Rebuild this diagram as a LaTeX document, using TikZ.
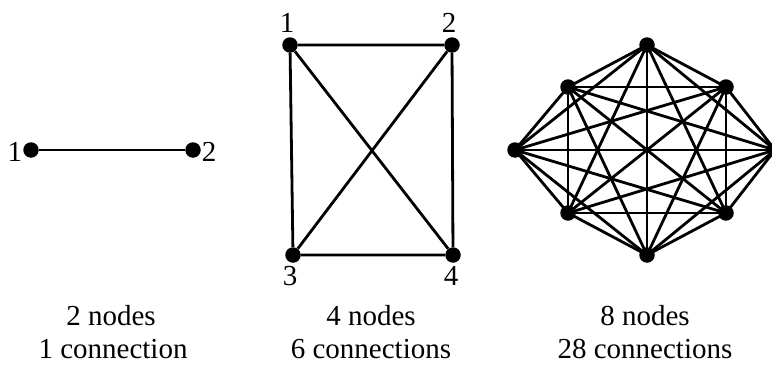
\documentclass[tikz,border=0pt]{standalone}
\usepackage{fontspec}
\setmainfont{Liberation Serif}
\begin{document}
\begin{tikzpicture}[x=1pt,y=-1pt,
  dot/.style={circle,fill=black,inner sep=0pt,minimum size=15.5pt},
  edge/.style={line width=2.8pt},
  lbl/.style={anchor=base,inner sep=0pt,font=\fontsize{29}{34}\selectfont}]
\useasboundingbox (0,0) rectangle (772,367);
% graph 1
\node[dot] (a1) at (31,150) {};
\node[dot] (a2) at (193,150) {};
\draw[edge] (a1) -- (a2);
\node[lbl] (la1) at (15,161) {1};
\node[lbl] (la2) at (209,161) {2};
% graph 2
\node[dot] (b1) at (290,45) {};
\node[dot] (b2) at (452,45) {};
\node[dot] (b3) at (293,255) {};
\node[dot] (b4) at (453,255) {};
\draw[edge] (b1) -- (b2) -- (b4) -- (b3) -- (b1) -- (b4);
\draw[edge] (b2) -- (b3);
\node[lbl] (lb1) at (287,32) {1};
\node[lbl] (lb2) at (449,32) {2};
\node[lbl] (lb3) at (290,285) {3};
\node[lbl] (lb4) at (451,285) {4};
% graph 3
\node[dot] (c1) at (647,45) {};
\node[dot] (c2) at (726,87) {};
\node[dot] (c3) at (775,150) {};
\node[dot] (c4) at (726,213) {};
\node[dot] (c5) at (647,255) {};
\node[dot] (c6) at (568,213) {};
\node[dot] (c7) at (515,150) {};
\node[dot] (c8) at (568,87) {};
\foreach \i in {1,...,7}{
  \pgfmathtruncatemacro{\s}{\i+1}
  \foreach \j in {\s,...,8}{
    \draw[edge] (c\i.center) -- (c\j.center);
  }
}
% captions
\node[lbl] (t1) at (111,325) {2 nodes};
\node[lbl] (t2) at (113,358) {1 connection};
\node[lbl] (t3) at (371,325) {4 nodes};
\node[lbl] (t4) at (371,358) {6 connections};
\node[lbl] (t5) at (645,325) {8 nodes};
\node[lbl] (t6) at (645,358) {28 connections};
\end{tikzpicture}
\end{document}
